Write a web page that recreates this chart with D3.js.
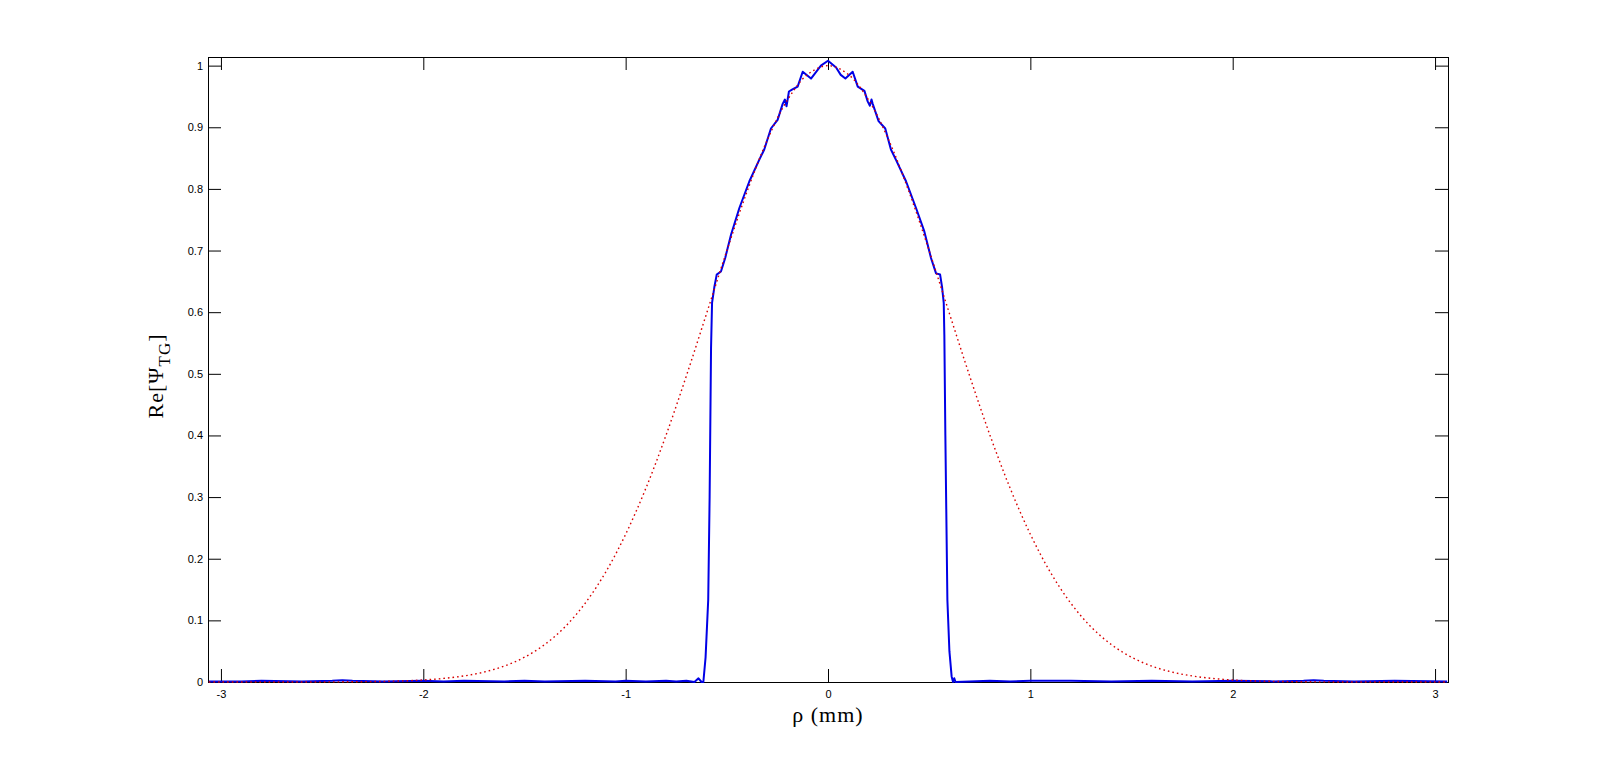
<!DOCTYPE html>
<html>
<head>
<meta charset="utf-8">
<script src="https://cdn.jsdelivr.net/npm/d3@7"></script>
<style>
  html, body { margin: 0; padding: 0; background: #fff; }
  svg { display: block; }
  .tick text { font-family: "Liberation Sans", Arial, sans-serif; font-size: 11px; fill: #000; }
  .tick line { stroke: #000; stroke-width: 1; }
</style>
</head>
<body>
<svg id="chart" width="1600" height="766"></svg>
<script>
// ---- data ----
const xTicks = [-3, -2, -1, 0, 1, 2, 3];
const xTickLabels = ["-3", "-2", "-1", "0", "1", "2", "3"];
const yTicks = [0, 0.1, 0.2, 0.3, 0.4, 0.5, 0.6, 0.7, 0.8, 0.9, 1];
const yTickLabels = ["0", "0.1", "0.2", "0.3", "0.4", "0.5", "0.6", "0.7", "0.8", "0.9", "1"];

// Gaussian reference (red dotted)
const rhoRef = [-3.06, -3.0, -2.9, -2.8, -2.7, -2.6, -2.5, -2.4, -2.3, -2.2, -2.1, -2.0, -1.9, -1.8, -1.7, -1.6, -1.5, -1.4, -1.3, -1.2, -1.1, -1.0, -0.9, -0.8, -0.7, -0.6, -0.5, -0.4, -0.3, -0.2, -0.1, 0.0,
  0.1, 0.2, 0.3, 0.4, 0.5, 0.6, 0.7, 0.8, 0.9, 1.0, 1.1, 1.2, 1.3, 1.4, 1.5, 1.6, 1.7, 1.8, 1.9, 2.0, 2.1, 2.2, 2.3, 2.4, 2.5, 2.6, 2.7, 2.8, 2.9, 3.0, 3.06];
const psiRef = [0.0, 0.0, 0.0, 0.0, 0.0, 0.0001, 0.0001, 0.0003, 0.0005, 0.0010, 0.0018, 0.0033, 0.0058, 0.0098, 0.0161, 0.0258, 0.0402, 0.0608, 0.0894, 0.1278, 0.1775, 0.2397, 0.3144, 0.4008, 0.4966, 0.5979, 0.6997, 0.7957, 0.8794, 0.9445, 0.9858, 1.0,
  0.9858, 0.9445, 0.8794, 0.7957, 0.6997, 0.5979, 0.4966, 0.4008, 0.3144, 0.2397, 0.1775, 0.1278, 0.0894, 0.0608, 0.0402, 0.0258, 0.0161, 0.0098, 0.0058, 0.0033, 0.0018, 0.0010, 0.0005, 0.0003, 0.0001, 0.0001, 0.0, 0.0, 0.0, 0.0, 0.0];

// Truncated / propagated field (blue solid)
const rhoTG = [-3.06, -2.9, -2.8, -2.6, -2.45, -2.4, -2.35, -2.2, -2.0, -1.9, -1.8, -1.6, -1.5, -1.4, -1.2, -1.05, -1.0, -0.9, -0.8, -0.75, -0.7, -0.66, -0.64, -0.625, -0.616, -0.605, -0.592, -0.585, -0.578, -0.573, -0.562, -0.55, -0.529, -0.508, -0.479, -0.438, -0.389, -0.34, -0.315, -0.282, -0.249, -0.224, -0.213, -0.205, -0.193, -0.178, -0.15, -0.125, -0.084, -0.035, 0.0,
  0.04, 0.063, 0.086, 0.122, 0.147, 0.18, 0.196, 0.207, 0.215, 0.221, 0.25, 0.283, 0.311, 0.336, 0.386, 0.435, 0.476, 0.509, 0.534, 0.554, 0.564, 0.572, 0.575, 0.58, 0.59, 0.6, 0.611, 0.618, 0.624, 0.63, 0.7, 0.8, 0.9, 1.0, 1.2, 1.4, 1.6, 1.8, 2.0, 2.2, 2.35, 2.4, 2.45, 2.6, 2.8, 3.06];
const psiTG = [0.001, 0.001, 0.002, 0.001, 0.002, 0.003, 0.002, 0.001, 0.002, 0.001, 0.002, 0.001, 0.002, 0.001, 0.002, 0.001, 0.002, 0.001, 0.002, 0.001, 0.002, 0.0, 0.006, 0.0, 0.0, 0.04, 0.133, 0.30, 0.542, 0.615, 0.64, 0.661, 0.666, 0.688, 0.726, 0.769, 0.812, 0.847, 0.864, 0.898, 0.912, 0.938, 0.945, 0.934, 0.958, 0.961, 0.966, 0.99, 0.979, 1.0, 1.008,
  0.997, 0.985, 0.979, 0.99, 0.966, 0.959, 0.942, 0.935, 0.945, 0.938, 0.91, 0.898, 0.864, 0.847, 0.812, 0.769, 0.731, 0.688, 0.663, 0.661, 0.64, 0.615, 0.563, 0.40, 0.133, 0.05, 0.009, 0.0, 0.006, 0.0, 0.001, 0.002, 0.001, 0.002, 0.002, 0.001, 0.002, 0.001, 0.002, 0.001, 0.002, 0.003, 0.002, 0.001, 0.002, 0.001];

// ---- layout ----
const svg = d3.select("#chart");
const L = 208, R = 1448, T = 57, B = 682;

const x = d3.scaleLinear().domain([-3.064, 3.064]).range([L, R]);
const y = d3.scaleLinear().domain([0, 1.014]).range([B, T]);

// axes with inward ticks on all four sides
svg.append("g").attr("transform", `translate(0,${B})`)
  .call(d3.axisBottom(x).tickValues(xTicks).tickSize(-13).tickPadding(8)
    .tickFormat((d, i) => xTickLabels[i]))
  .call(g => g.select(".domain").remove());
svg.append("g").attr("transform", `translate(0,${T})`)
  .call(d3.axisTop(x).tickValues(xTicks).tickSize(-13).tickFormat(""))
  .call(g => g.select(".domain").remove());
svg.append("g").attr("transform", `translate(${L},0)`)
  .call(d3.axisLeft(y).tickValues(yTicks).tickSize(-13).tickPadding(5)
    .tickFormat((d, i) => yTickLabels[i]))
  .call(g => g.select(".domain").remove());
svg.append("g").attr("transform", `translate(${R},0)`)
  .call(d3.axisRight(y).tickValues(yTicks).tickSize(-13).tickFormat(""))
  .call(g => g.select(".domain").remove());

// box
svg.append("rect").attr("x", L + 0.5).attr("y", T + 0.5)
  .attr("width", R - L).attr("height", B - T)
  .attr("fill", "none").attr("stroke", "#000").attr("stroke-width", 1);

// clip
svg.append("clipPath").attr("id", "clip").append("rect")
  .attr("x", L).attr("y", T - 3).attr("width", R - L + 1).attr("height", B - T + 4);

const line = d3.line().x(d => x(d[0])).y(d => y(d[1]));

const plot = svg.append("g").attr("clip-path", "url(#clip)");
plot.append("path")
  .datum(rhoTG.map((r, i) => [r, psiTG[i]]))
  .attr("d", line)
  .attr("fill", "none").attr("stroke", "#0000e6").attr("stroke-width", 2)
  .attr("stroke-linejoin", "round");
plot.append("path")
  .datum(rhoRef.map((r, i) => [r, psiRef[i]]))
  .attr("d", line.curve(d3.curveCatmullRom))
  .attr("fill", "none").attr("stroke", "#d80000").attr("stroke-width", 1.4)
  .attr("stroke-dasharray", "1.6,3");

// axis labels
svg.append("text")
  .attr("x", (L + R) / 2).attr("y", 722)
  .attr("text-anchor", "middle")
  .style("font-family", "'Liberation Serif', 'Times New Roman', serif")
  .style("font-size", "22px")
  .style("letter-spacing", "1px")
  .text("ρ (mm)");

const yl = svg.append("text")
  .attr("transform", "translate(163,376) rotate(-90)")
  .attr("text-anchor", "middle")
  .style("font-family", "'Liberation Serif', 'Times New Roman', serif")
  .style("font-size", "22px")
  .style("letter-spacing", "1px");
yl.append("tspan").text("Re[Ψ");
yl.append("tspan").attr("dy", 7).style("font-size", "17px").text("TG");
yl.append("tspan").attr("dy", -7).text("]");
</script>
</body>
</html>
